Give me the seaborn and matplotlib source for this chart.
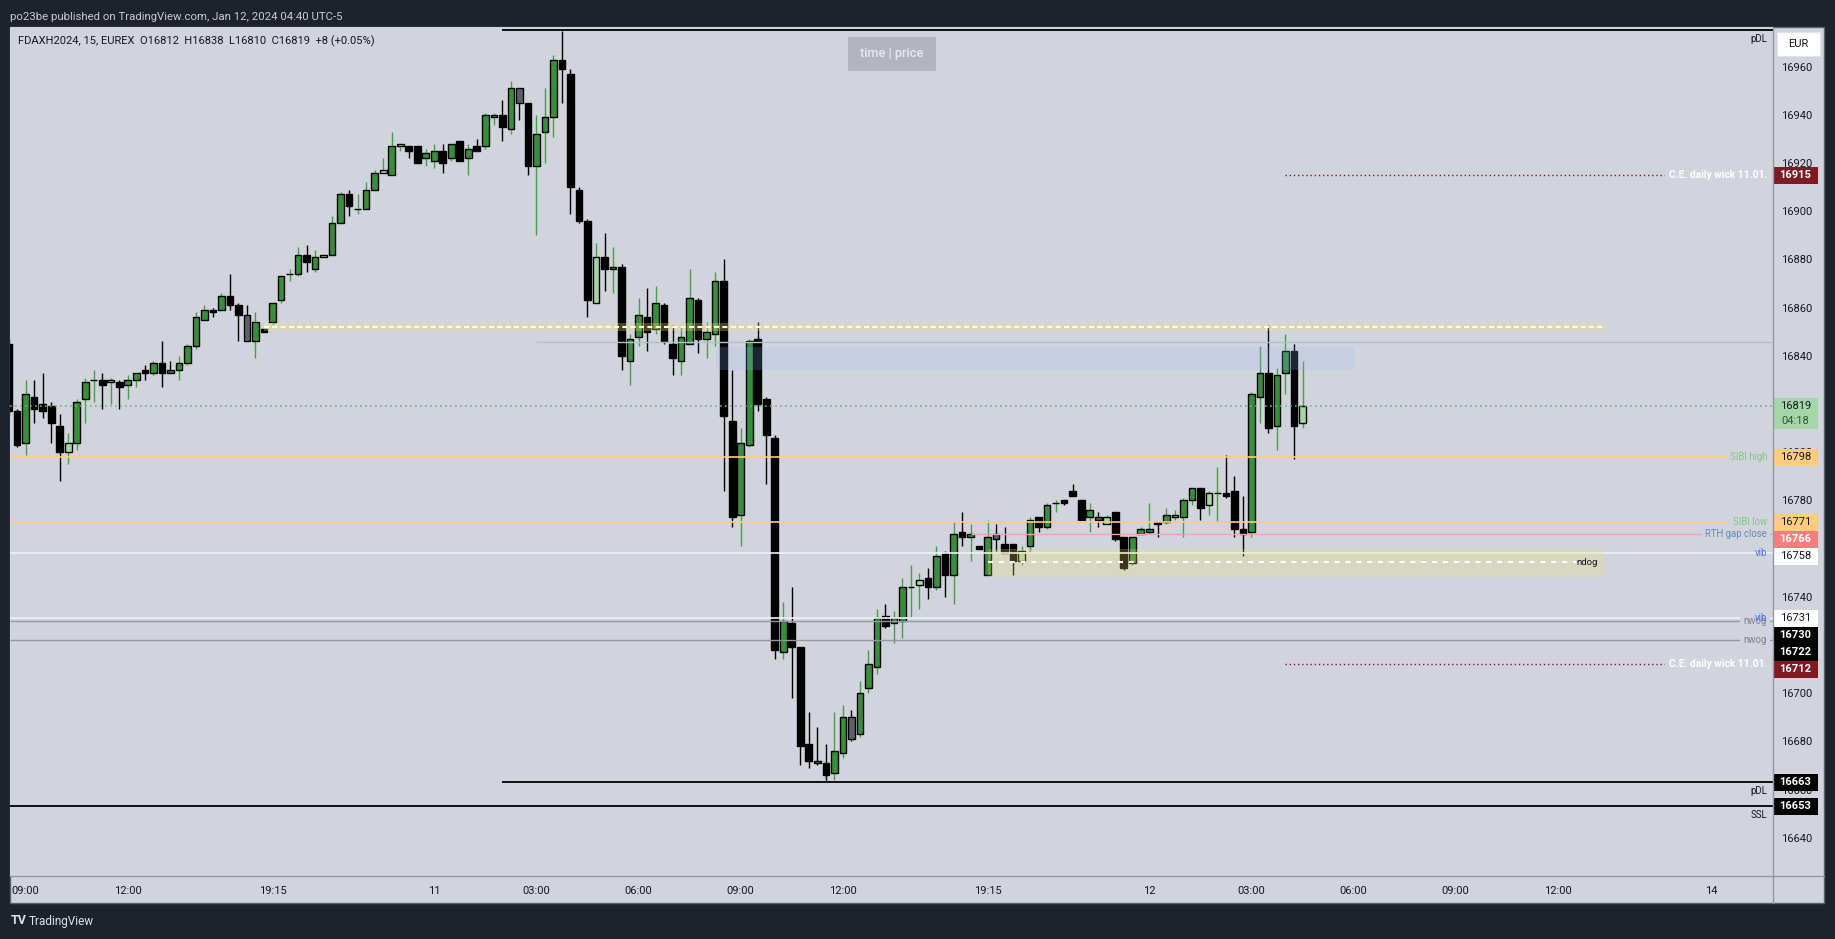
import numpy as np
import pandas as pd
import matplotlib
matplotlib.use("Agg")
import matplotlib.pyplot as plt
import matplotlib.transforms as mtransforms
from matplotlib.patches import Rectangle
from matplotlib.lines import Line2D
import seaborn as sns

# ---------------- data ----------------
START_IDX = -2  # index of first candle (0 = 09:00 Jan 10, 15-minute bars)
OPEN = [16845, 16817, 16804, 16823, 16820, 16819, 16811, 16800, 16804, 16822,
        16830, 16830, 16829, 16829, 16828, 16830, 16834, 16833, 16837, 16834,
        16834, 16837, 16844, 16855, 16859, 16859, 16865, 16861, 16857, 16846,
        16851, 16854, 16863, 16874, 16874, 16882, 16876, 16881, 16882, 16895,
        16907, 16901, 16901, 16909, 16916, 16915, 16927, 16927, 16927, 16922,
        16921, 16925, 16922, 16929, 16922, 16927, 16927, 16939, 16940, 16934,
        16951, 16945, 16919, 16933, 16939, 16963, 16957, 16909, 16896, 16862,
        16881, 16876, 16877, 16838, 16848, 16856, 16851, 16861, 16845, 16838,
        16845, 16863, 16847, 16849, 16871, 16813, 16774, 16803, 16847, 16822,
        16806, 16717, 16729, 16719, 16679, 16672, 16671, 16667, 16675, 16690,
        16683, 16702, 16711, 16732, 16729, 16730, 16744, 16745, 16748, 16744,
        16758, 16749, 16767, 16765, 16761, 16749, 16766, 16762, 16762, 16755,
        16761, 16773, 16769, 16779, 16780, 16784, 16780, 16773, 16773, 16770,
        16775, 16765, 16754, 16766, 16767, 16771, 16771, 16773, 16773, 16780,
        16785, 16778, 16783, 16783, 16784, 16768, 16767, 16823, 16833, 16811,
        16833, 16842, 16812]
HIGH = [16847, 16818, 16830, 16830, 16833, 16821, 16816, 16808, 16822, 16831,
        16834, 16833, 16831, 16830, 16832, 16833, 16836, 16838, 16846, 16838,
        16840, 16845, 16858, 16861, 16860, 16866, 16874, 16862, 16861, 16858,
        16851, 16862, 16873, 16876, 16885, 16886, 16884, 16882, 16898, 16908,
        16909, 16907, 16912, 16917, 16922, 16933, 16928, 16927, 16927, 16926,
        16928, 16928, 16928, 16929, 16928, 16930, 16941, 16941, 16946, 16954,
        16951, 16945, 16940, 16951, 16965, 16975, 16959, 16910, 16897, 16887,
        16891, 16885, 16878, 16849, 16864, 16868, 16869, 16862, 16853, 16853,
        16876, 16864, 16854, 16875, 16880, 16834, 16810, 16847, 16854, 16823,
        16807, 16738, 16744, 16719, 16692, 16686, 16679, 16692, 16695, 16693,
        16705, 16718, 16735, 16737, 16734, 16748, 16753, 16750, 16752, 16761,
        16759, 16771, 16775, 16770, 16761, 16772, 16770, 16769, 16762, 16761,
        16773, 16773, 16779, 16780, 16780, 16787, 16780, 16779, 16775, 16774,
        16775, 16765, 16765, 16769, 16779, 16771, 16777, 16776, 16781, 16785,
        16785, 16784, 16794, 16799, 16790, 16782, 16825, 16844, 16853, 16835,
        16849, 16845, 16838]
LOW = [16815, 16802, 16799, 16812, 16814, 16804, 16788, 16795, 16801, 16812,
       16821, 16818, 16820, 16818, 16822, 16827, 16830, 16832, 16827, 16833,
       16830, 16836, 16843, 16855, 16856, 16859, 16859, 16846, 16846, 16839,
       16850, 16853, 16862, 16871, 16873, 16875, 16875, 16881, 16882, 16895,
       16898, 16899, 16901, 16909, 16916, 16915, 16925, 16922, 16920, 16919,
       16918, 16916, 16921, 16921, 16915, 16925, 16926, 16936, 16929, 16932,
       16938, 16915, 16890, 16920, 16931, 16945, 16899, 16895, 16856, 16862,
       16867, 16866, 16834, 16828, 16844, 16842, 16849, 16845, 16832, 16832,
       16845, 16841, 16839, 16844, 16784, 16769, 16761, 16802, 16817, 16787,
       16714, 16714, 16698, 16670, 16669, 16670, 16663, 16664, 16673, 16680,
       16682, 16700, 16708, 16727, 16721, 16723, 16731, 16735, 16739, 16743,
       16740, 16737, 16761, 16755, 16760, 16749, 16759, 16758, 16749, 16753,
       16758, 16767, 16768, 16775, 16778, 16782, 16772, 16767, 16769, 16770,
       16763, 16751, 16753, 16766, 16766, 16765, 16770, 16772, 16765, 16778,
       16772, 16774, 16771, 16781, 16765, 16757, 16765, 16812, 16808, 16801,
       16824, 16797, 16810]
CLOSE = [16817, 16803, 16824, 16818, 16817, 16812, 16800, 16804, 16821, 16829,
         16830, 16828, 16830, 16827, 16830, 16833, 16833, 16837, 16833, 16833,
         16837, 16844, 16856, 16859, 16858, 16865, 16861, 16857, 16846, 16854,
         16850, 16862, 16873, 16874, 16882, 16879, 16881, 16882, 16895, 16907,
         16902, 16901, 16909, 16916, 16917, 16927, 16928, 16925, 16920, 16924,
         16925, 16920, 16928, 16921, 16926, 16925, 16940, 16940, 16935, 16951,
         16945, 16919, 16932, 16939, 16963, 16959, 16910, 16896, 16863, 16881,
         16876, 16877, 16840, 16847, 16857, 16850, 16862, 16846, 16839, 16848,
         16864, 16847, 16850, 16871, 16815, 16773, 16804, 16846, 16820, 16807,
         16718, 16730, 16719, 16678, 16672, 16671, 16666, 16676, 16690, 16681,
         16700, 16712, 16731, 16728, 16731, 16744, 16744, 16747, 16744, 16757,
         16749, 16766, 16765, 16766, 16760, 16765, 16764, 16758, 16755, 16759,
         16772, 16769, 16778, 16779, 16779, 16782, 16772, 16776, 16772, 16773,
         16764, 16752, 16765, 16768, 16768, 16770, 16774, 16774, 16780, 16785,
         16777, 16783, 16783, 16782, 16768, 16766, 16824, 16833, 16810, 16832,
         16842, 16811, 16819]
LIGHT_UP = [5, 10, 35, 42, 44, 67, 105, 117, 127, 135, 139, 150]
GRAY_DOWN = [17, 26, 58, 93, 97, 114, 126]

TIME_TICKS = [0, 12, 29, 48, 60, 72, 84, 96, 113, 132, 144, 156, 168, 180, 198]
TIME_LABELS = ["09:00", "12:00", "19:15", "11", "03:00", "06:00", "09:00", "12:00",
               "19:15", "12", "03:00", "06:00", "09:00", "12:00", "14"]
PRICE_TICKS = list(range(16640, 16961, 20))

# drawn levels (price, start candle index)
PDH_TOP = 16975.2
PDL_LEVEL = 16663
SSL_LEVEL = 16653
PD_START = 56
TEAL_LEVEL = 16845.6
TEAL_START = 60
SIBI_HIGH = 16798
SIBI_LOW = 16771
RTH_GAP = 16766
RTH_START = 111
VIB_LEVELS = [16758, 16731]
NWOG_LEVELS = [16730, 16722]
CE_LEVELS = [16915, 16712]
CE_START = 148
BAND_LOW, BAND_MID, BAND_HIGH = 16850.4, 16852, 16853.5
BAND_START, BAND_END = 28, 185.7
FVG_LOW, FVG_HIGH = 16834.1, 16843.8
FVG_START, FVG_END = 81.1, 156.1
NDOG_LOW, NDOG_MID, NDOG_HIGH = 16748.3, 16754.3, 16759.8
NDOG_START, NDOG_END = 113, 185.3
COUNTDOWN = "04:18"

# ---------------- style ----------------
W, H = 1835, 939
AX_L, AX_R, AX_T, AX_B = 10, 1773, 27, 876
YMIN, YMAX = 16624.1, 16976.5
XMIN, XMAX = -1.84, 205.27
BG = "#d1d4dc"
FRAME = "#1e222d"
TXT = "#131722"
GREEN = "#388e3c"
WICK_GREEN = "#43a047"
LIGHT = "#a5d6a7"
GRAY = "#5d606b"
SEP = "#9598a1"

sns.set_theme(style="white", rc={"axes.facecolor": BG, "figure.facecolor": FRAME})
plt.rcParams["font.family"] = ["Roboto", "DejaVu Sans"]

ppu = (AX_B - AX_T) / (YMAX - YMIN)


def fx(px):
    return px / W


def fy(py):
    return 1 - py / H


def axx(px):
    return (px - AX_L) / (AX_R - AX_L)


def py_of(p):
    return AX_T + (YMAX - p) * ppu


def price_at(py):
    return YMAX - (py - AX_T) / ppu


fig = plt.figure(figsize=(W / 100, H / 100), dpi=100, facecolor=FRAME)
fig.add_artist(Rectangle((fx(10), fy(903)), fx(1814), 876 / H, transform=fig.transFigure,
                         fc=BG, ec="#5d606b", lw=1, zorder=-5))
ax = fig.add_axes([fx(AX_L), fy(AX_B), fx(AX_R - AX_L), (AX_B - AX_T) / H])
ax.set_facecolor(BG)
ax.set_xlim(XMIN, XMAX)
ax.set_ylim(YMIN, YMAX)
for s in ax.spines.values():
    s.set_visible(False)

# separators
fig.add_artist(Line2D([fx(AX_R), fx(AX_R)], [fy(AX_T), fy(903)], color=SEP, lw=1, transform=fig.transFigure))
fig.add_artist(Line2D([fx(10), fx(1824)], [fy(AX_B), fy(AX_B)], color=SEP, lw=1, transform=fig.transFigure))

# ---------------- candles ----------------
df = pd.DataFrame({"open": OPEN, "high": HIGH, "low": LOW, "close": CLOSE})
df["x"] = np.arange(START_IDX, START_IDX + len(df))
df["up"] = df["close"] >= df["open"]
body = np.where(df["up"], GREEN, "#000000").astype(object)
body[df["x"].isin(LIGHT_UP).to_numpy()] = LIGHT
body[df["x"].isin(GRAY_DOWN).to_numpy()] = GRAY
wick = np.where(df["up"], WICK_GREEN, "#000000")

ax.vlines(df["x"], df["low"], df["high"], colors=wick, lw=1.0, zorder=3)
ax.bar(df["x"], df["close"] - df["open"], bottom=df["open"], width=0.78,
       color=list(body), edgecolor="#000000", linewidth=1.0, zorder=4)

# ---------------- levels ----------------
trans = mtransforms.blended_transform_factory(ax.transAxes, ax.transData)

ax.hlines(PDH_TOP, PD_START, XMAX, colors="#000000", lw=1.3, zorder=5)
ax.hlines(PDL_LEVEL, PD_START, XMAX, colors="#000000", lw=1.3, zorder=5)
ax.hlines(SSL_LEVEL, XMIN, XMAX, colors="#000000", lw=1.3, zorder=5)
ax.hlines(TEAL_LEVEL, TEAL_START, XMAX, colors="#a9c3cc", lw=1.0, zorder=5)
ax.hlines(CLOSE[-1], XMIN, XMAX, colors="#66bb6a", lw=1.2, linestyles=(0, (1, 2)), zorder=5)
ax.hlines([SIBI_HIGH, SIBI_LOW], XMIN, XMAX, colors="#ffcc80", lw=1.2, zorder=5)
ax.hlines(RTH_GAP, RTH_START, XMAX, colors="#f2a3ab", lw=1.0, zorder=5)
ax.hlines(VIB_LEVELS, XMIN, XMAX, colors="#eef0f5", lw=1.2, zorder=5)
ax.hlines(NWOG_LEVELS, XMIN, XMAX, colors="#9598a1", lw=1.0, zorder=5)
ax.hlines(CE_LEVELS, CE_START, XMAX, colors="#801922", lw=1.0, linestyles=(0, (1, 2)), zorder=5)

# band with dashed mid line
ax.fill_between([BAND_START, BAND_END], BAND_LOW, BAND_HIGH, color="#f0e26a", alpha=0.3, lw=0, zorder=6)
ax.hlines(BAND_MID, BAND_START, BAND_END, colors="white", lw=1.5, linestyles=(0, (2.4, 1.6)), zorder=6)
# FVG box
ax.fill_between([FVG_START, FVG_END], FVG_LOW, FVG_HIGH, color="#9ab6f7", alpha=0.2, lw=0, zorder=6)
# ndog box
ax.fill_between([NDOG_START, NDOG_END], NDOG_LOW, NDOG_HIGH, color="#f0e26a", alpha=0.25, lw=0, zorder=6)
ax.hlines(NDOG_MID, NDOG_START, NDOG_END - 3.2, colors="white", lw=1.5, linestyles=(0, (2.4, 2.8)), zorder=6)
ax.text(NDOG_END - 0.6, NDOG_MID, "ndog", ha="right", va="center", fontsize=6.8, color=TXT, zorder=7)

# line labels left of price scale
LX = axx(1767)
FS = 6.9
mask = dict(boxstyle="square,pad=0.35", fc=BG, ec="none")
ax.text(LX, price_at(39), "pDL", transform=trans, ha="right", va="center", fontsize=FS, color=TXT, zorder=7)
ax.text(LX, price_at(791), "pDL", transform=trans, ha="right", va="center", fontsize=FS, color=TXT, zorder=7)
ax.text(LX, price_at(815), "SSL", transform=trans, ha="right", va="center", fontsize=FS, color=TXT, zorder=7)
for lv in CE_LEVELS:
    ax.text(LX, lv, "C.E. daily wick 11.01.", transform=trans, ha="right", va="center",
            fontsize=7.4, fontweight="bold", color="white", bbox=mask, zorder=7)
ax.text(LX, SIBI_HIGH, "SIBI high", transform=trans, ha="right", va="center", fontsize=FS,
        color="#81c784", bbox=mask, zorder=7)
ax.text(LX, SIBI_LOW, "SIBI low", transform=trans, ha="right", va="center", fontsize=FS,
        color="#81c784", bbox=mask, zorder=7)
ax.text(LX, RTH_GAP, "RTH gap close", transform=trans, ha="right", va="center", fontsize=FS,
        color="#5f8db5", bbox=mask, zorder=7)
ax.text(LX, NWOG_LEVELS[0], "nwog", transform=trans, ha="right", va="center", fontsize=FS,
        color="#7f8290", bbox=mask, zorder=7)
ax.text(LX, NWOG_LEVELS[1], "nwog", transform=trans, ha="right", va="center", fontsize=FS,
        color="#7f8290", bbox=mask, zorder=7)
for lv in VIB_LEVELS:
    ax.text(LX, lv, "vib", transform=trans, ha="right", va="center", fontsize=FS,
            color="#4a6cf0", bbox=dict(boxstyle="square,pad=0.2", fc="none", ec="none"), zorder=8)

# ---------------- axes ticks ----------------
ax.yaxis.tick_right()
ax.set_yticks(PRICE_TICKS)
ax.set_yticklabels([str(t) for t in PRICE_TICKS])
ax.tick_params(axis="y", length=0, pad=6, labelsize=8, labelcolor=TXT)
ax.set_xticks(TIME_TICKS)
ax.set_xticklabels(TIME_LABELS)
ax.tick_params(axis="x", length=0, pad=7, labelsize=8, labelcolor=TXT)
ax.grid(False)

# ---------------- price scale boxes (stacked to avoid overlap) ----------------
BOX_PRICES = [CE_LEVELS[0], CLOSE[-1], SIBI_HIGH, SIBI_LOW, RTH_GAP, VIB_LEVELS[0],
              VIB_LEVELS[1], NWOG_LEVELS[0], NWOG_LEVELS[1], CE_LEVELS[1], PDL_LEVEL, SSL_LEVEL]
BOX_FACES = ["#801922", "#a5d6a7", "#ffcc80", "#ffcc80", "#f77c80", "#ffffff",
             "#ffffff", "#000000", "#000000", "#801922", "#000000", "#000000"]
BOX_TEXT = ["white", TXT, TXT, TXT, "white", TXT, TXT, "white", "white", "white", "white", "white"]
bx0, bx1 = axx(1773), axx(1818)
prev_bottom = -1e9
for p, fc, tc in sorted(zip(BOX_PRICES, BOX_FACES, BOX_TEXT), key=lambda t: -t[0]):
    c = py_of(p)
    up_px, dn_px = 8.5, 8.5
    if p == CLOSE[-1]:
        dn_px = 22.5
    if c - up_px < prev_bottom:
        c = prev_bottom + up_px
    prev_bottom = c + dn_px
    top_p, bot_p = price_at(c - up_px), price_at(c + dn_px)
    ax.add_patch(Rectangle((bx0, bot_p), bx1 - bx0, top_p - bot_p, transform=trans,
                           fc=fc, ec="none", clip_on=False, zorder=9))
    ax.text((bx0 + bx1) / 2, price_at(c), str(p), transform=trans, ha="center", va="center",
            fontsize=8, color=tc, clip_on=False, zorder=10,
            fontweight="bold" if tc == "white" else "normal")
    if p == CLOSE[-1]:
        ax.text((bx0 + bx1) / 2, price_at(c + 14.5), COUNTDOWN, transform=trans, ha="center",
                va="center", fontsize=8, color="#2a5a33", clip_on=False, zorder=10)

# EUR box
fig.add_artist(Rectangle((fx(1777), fy(56)), fx(43), 24 / H, transform=fig.transFigure,
                         fc="white", ec="#e0e3eb", lw=0.8, zorder=11))
fig.text(fx(1798.5), fy(44), "EUR", ha="center", va="center", fontsize=8, color=TXT, zorder=12)

# ---------------- header / legend / footer ----------------
chg = CLOSE[-1] - CLOSE[-2]
pct = chg / CLOSE[-2] * 100
legend = (f"FDAXH2024, 15, EUREX  O{OPEN[-1]}  H{HIGH[-1]}  L{LOW[-1]}  C{CLOSE[-1]}  "
          f"{chg:+d} ({pct:+.2f}%)")
fig.text(fx(18), fy(41.5), legend, ha="left", va="center", fontsize=8, color=TXT)
fig.text(fx(10), fy(17), "po23be published on TradingView.com, Jan 12, 2024 04:40 UTC-5",
         ha="left", va="center", fontsize=8.2, color="#c9ccd4")
fig.add_artist(Rectangle((fx(848), fy(71)), fx(88), 34 / H, transform=fig.transFigure,
                         fc="#b2b5be", ec="none", zorder=11))
fig.text(fx(892), fy(54), "time | price", ha="center", va="center", fontsize=9.2,
         fontweight="medium", color="#e8eaef", zorder=12)
fig.text(fx(11), fy(921), "TV", ha="left", va="center", fontsize=9, fontweight="bold", color="#e0e3eb")
fig.text(fx(29), fy(921), "TradingView", ha="left", va="center", fontsize=8.5, color="#e0e3eb")

fig.savefig("out.png", dpi=100, facecolor=FRAME)
